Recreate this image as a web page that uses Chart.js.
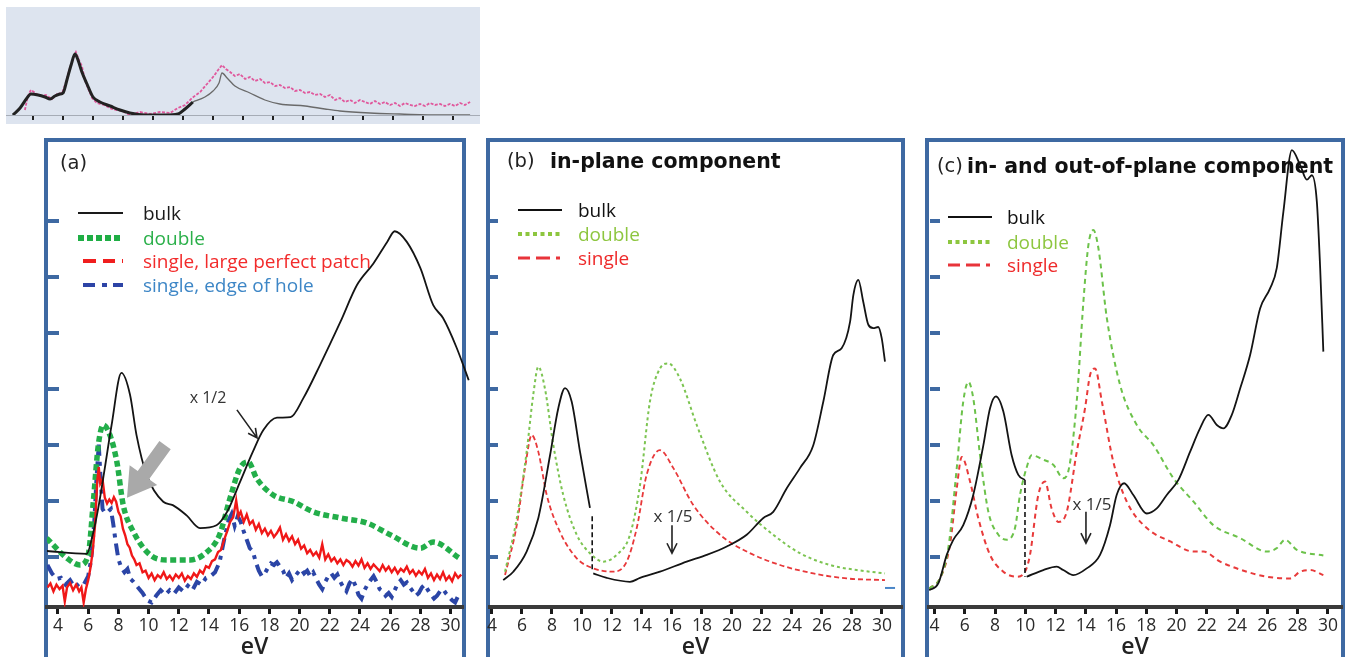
<!DOCTYPE html>
<html>
<head>
<meta charset="utf-8">
<script src="https://cdn.jsdelivr.net/npm/chart.js@4.4.1/dist/chart.umd.min.js"></script>
<style>
  body { margin: 0; background: #fff; width: 1350px; height: 657px; overflow: hidden; position: relative; font-family: "Open Sans", sans-serif; }
  canvas { position: absolute; }
  .frame { position: absolute; top: 138px; height: 540px; border: 4px solid #3e69a2; box-sizing: border-box; }
  .t { position: absolute; white-space: nowrap; line-height: 1; }
  .lg { position: absolute; white-space: nowrap; font-family: "Open Sans", sans-serif; font-size: 19px; line-height: 22px; }
  .note { position: absolute; white-space: nowrap; line-height: 1; color: #333; transform: translate(-50%, -50%); }
</style>
</head>
<body>
<div style="position:absolute;left:6px;top:7px;width:474px;height:117px;background:#dde4ef"></div>
<canvas id="inset" width="474" height="117" style="left:6px;top:7px"></canvas>

<div class="frame" style="left:44px;width:422px"></div>
<div class="frame" style="left:486px;width:419px"></div>
<div class="frame" style="left:925px;width:420px"></div>

<canvas id="pa" width="440" height="517" style="left:40px;top:140px"></canvas>
<canvas id="pb" width="424" height="517" style="left:484px;top:140px"></canvas>
<canvas id="pc" width="427" height="517" style="left:923px;top:140px"></canvas>

<div class="t" style="left:60px;top:153px;font-family:'DejaVu Sans';font-size:19.5px;color:#222">(a)</div>
<div class="t" style="left:507px;top:151px;font-family:'DejaVu Sans';font-size:19.5px;color:#222">(b)</div>
<div class="t" style="left:550px;top:151px;font-family:'DejaVu Sans';font-weight:bold;font-size:20.5px;color:#111">in-plane component</div>
<div class="t" style="left:937px;top:156px;font-family:'DejaVu Sans';font-size:19.5px;color:#222">(c)</div>
<div class="t" style="left:967px;top:156px;font-family:'DejaVu Sans';font-weight:bold;font-size:20.5px;color:#111">in- and out-of-plane component</div>

<div class="note" style="left:208px;top:397px;font-size:16px">x 1/2</div>
<div class="note" style="left:673px;top:515px;font-size:17px">x 1/5</div>
<div class="note" style="left:1092px;top:503px;font-size:17px">x 1/5</div>

<svg id="keys" width="1350" height="657" style="position:absolute;left:0;top:0;pointer-events:none"></svg>

<script>
// shared ticks
const xTicks = [4, 6, 8, 10, 12, 14, 16, 18, 20, 22, 24, 26, 28, 30];
const yTicks = [0, 1, 2, 3, 4, 5, 6];
const insetTicks = [1, 2, 3, 4, 5, 6, 7, 8, 9, 10, 11, 12, 13, 14, 15];

// inset (top left), x in tick units
const insetBulkK = [0.33, 0.57, 0.8, 0.93, 1.17, 1.4, 1.57, 1.73, 1.9, 2.0, 2.13, 2.27, 2.4, 2.5, 2.63, 2.8, 3.0, 3.23, 3.57, 3.9, 4.23, 4.73, 5.4, 5.83, 6.07, 6.33];
const insetBulk = [0, 0.7, 1.7, 2.1, 2.0, 1.8, 1.6, 1.9, 2.1, 2.2, 3.5, 5.0, 6.1, 5.5, 4.3, 3.1, 1.8, 1.3, 0.9, 0.5, 0.2, 0, 0, 0.1, 0.6, 1.3];
const insetTailK = [6.33, 6.73, 7.0, 7.2, 7.3, 7.47, 7.73, 8.23, 8.73, 9.23, 10.07, 10.73, 11.23, 12.23, 13.23, 14.57, 15.57];
const insetTail = [1.3, 1.8, 2.4, 3.2, 4.2, 3.7, 2.9, 2.2, 1.5, 1.1, 0.9, 0.6, 0.4, 0.2, 0.1, 0, 0];
const insetPinkK = [0.73, 0.83, 0.93, 1.07, 1.23, 1.43, 1.63, 1.8, 1.97, 2.1, 2.23, 2.37, 2.43, 2.53, 2.63, 2.73, 2.83, 2.97, 3.13, 3.37, 3.63, 3.97, 4.23, 4.57, 4.9, 5.23, 5.57, 5.83, 6.07, 6.3, 6.57, 6.8, 7.03, 7.17, 7.3, 7.43, 7.57, 7.73, 7.9, 8.07, 8.23, 8.4, 8.57, 8.73, 8.9, 9.07, 9.23, 9.4, 9.57, 9.73, 9.9, 10.07, 10.23, 10.4, 10.57, 10.73, 10.9, 11.07, 11.23, 11.4, 11.57, 11.73, 11.9, 12.07, 12.23, 12.4, 12.57, 12.73, 12.9, 13.07, 13.23, 13.4, 13.57, 13.73, 13.9, 14.07, 14.23, 14.4, 14.57, 14.73, 14.9, 15.07, 15.23, 15.4, 15.57];
const insetPink = [0.5, 1.9, 2.5, 2.2, 1.9, 2.0, 1.6, 2.1, 2.2, 3.3, 4.7, 5.9, 6.3, 5.5, 4.9, 3.5, 2.7, 1.7, 1.2, 1.0, 0.6, 0.4, 0.0, 0.3, 0.1, 0.3, 0.2, 0.7, 1.0, 1.7, 2.3, 3.1, 3.9, 4.5, 5.0, 4.6, 4.3, 3.9, 4.1, 3.6, 3.8, 3.4, 3.6, 3.2, 3.3, 2.9, 3.0, 2.7, 2.8, 2.4, 2.5, 2.2, 2.3, 2.0, 2.1, 1.8, 2.0, 1.5, 1.7, 1.3, 1.5, 1.2, 1.5, 1.3, 1.1, 1.4, 1.1, 1.3, 1.0, 1.2, 0.9, 1.2, 1.0, 0.9, 1.1, 0.9, 1.2, 1.0, 1.1, 0.9, 1.1, 0.9, 1.2, 1.0, 1.3];

// panel (a)
const aBulkEv = [3.25, 5.9, 6.3, 6.67, 7.1, 7.55, 8.2, 8.77, 9.2, 9.87, 10.97, 11.6, 12.5, 13.4, 14.5, 15.2, 16.05, 16.9, 17.6, 18.5, 19.4, 20.25, 21.35, 22.7, 23.8, 24.9, 25.8, 26.3, 27.1, 28.0, 28.85, 29.5, 30.4, 31.2];
const aBulk = [0.1, 0.05, 0.39, 0.87, 1.58, 2.35, 3.28, 2.89, 2.17, 1.46, 0.98, 0.92, 0.74, 0.51, 0.56, 0.8, 1.33, 1.87, 2.26, 2.48, 2.49, 2.83, 3.42, 4.19, 4.85, 5.24, 5.62, 5.81, 5.62, 5.15, 4.49, 4.26, 3.73, 3.15];
const aDoubleEv = [3.25, 4.6, 5.45, 6.0, 6.34, 6.67, 7.0, 7.44, 7.9, 8.32, 9.0, 10.1, 11.2, 12.75, 13.85, 14.7, 15.4, 16.05, 16.6, 17.15, 18.25, 19.6, 20.9, 22.7, 24.45, 26.0, 28.0, 28.85, 30.6];
const aDouble = [0.33, -0.03, -0.15, 0.03, 0.98, 1.99, 2.35, 2.17, 1.69, 0.92, 0.44, 0.03, -0.06, -0.06, 0.08, 0.39, 1.05, 1.58, 1.69, 1.4, 1.1, 0.98, 0.8, 0.69, 0.6, 0.39, 0.15, 0.26, -0.03];
const aPatchEv = [3.3, 3.5, 3.7, 3.9, 4.1, 4.3, 4.45, 4.6, 4.8, 5.0, 5.2, 5.4, 5.55, 5.7, 5.85, 6.0, 6.15, 6.3, 6.45, 6.6, 6.7, 6.8, 6.95, 7.1, 7.25, 7.4, 7.55, 7.7, 7.85, 8.0, 8.15, 8.3, 8.45, 8.6, 8.75, 8.9, 9.05, 9.2, 9.4, 9.6, 9.8, 10.0, 10.2, 10.4, 10.6, 10.8, 11.0, 11.2, 11.4, 11.6, 11.8, 12.0, 12.2, 12.4, 12.6, 12.8, 13.0, 13.2, 13.4, 13.6, 13.8, 14.0, 14.2, 14.4, 14.6, 14.8, 15.0, 15.2, 15.4, 15.6, 15.8, 15.95, 16.1, 16.3, 16.5, 16.7, 16.9, 17.1, 17.3, 17.5, 17.7, 17.9, 18.1, 18.3, 18.5, 18.7, 18.9, 19.1, 19.3, 19.5, 19.7, 19.9, 20.1, 20.3, 20.5, 20.7, 20.9, 21.1, 21.3, 21.5, 21.7, 21.9, 22.1, 22.3, 22.5, 22.7, 22.9, 23.1, 23.3, 23.5, 23.7, 23.9, 24.1, 24.3, 24.5, 24.7, 24.9, 25.1, 25.3, 25.5, 25.7, 25.9, 26.1, 26.3, 26.5, 26.7, 26.9, 27.1, 27.3, 27.5, 27.7, 27.9, 28.1, 28.3, 28.5, 28.7, 28.9, 29.1, 29.3, 29.5, 29.7, 29.9, 30.1, 30.3, 30.5, 30.7];
const aPatch = [-0.55, -0.48, -0.62, -0.5, -0.58, -0.52, -0.8, -0.55, -0.47, -0.6, -0.5, -0.62, -0.55, -0.82, -0.58, -0.42, -0.2, 0.1, 0.55, 1.35, 1.6, 1.3, 1.38, 1.05, 0.95, 1.02, 0.96, 1.06, 0.98, 0.8, 0.72, 0.5, 0.38, 0.22, 0.16, 0.02, -0.05, -0.15, -0.12, -0.28, -0.25, -0.38, -0.3, -0.42, -0.33, -0.38, -0.28, -0.4, -0.34, -0.42, -0.32, -0.38, -0.3, -0.43, -0.35, -0.4, -0.3, -0.36, -0.25, -0.3, -0.17, -0.2, -0.08, -0.05, 0.08, 0.12, 0.3, 0.45, 0.62, 0.7, 1.0, 0.72, 0.8, 0.62, 0.75, 0.58, 0.64, 0.48, 0.58, 0.42, 0.5, 0.38, 0.46, 0.35, 0.42, 0.52, 0.3, 0.4, 0.28, 0.36, 0.22, 0.3, 0.14, 0.2, 0.06, 0.12, 0.02, 0.08, -0.02, 0.22, -0.05, 0.04, -0.08, -0.02, -0.12, -0.05, -0.15, -0.06, -0.1, -0.18, -0.08, -0.16, -0.05, -0.2, -0.12, -0.22, -0.14, -0.2, -0.26, -0.15, -0.25, -0.18, -0.28, -0.2, -0.3, -0.22, -0.27, -0.18, -0.3, -0.24, -0.34, -0.26, -0.32, -0.22, -0.38, -0.3, -0.42, -0.32, -0.4, -0.28, -0.42, -0.35, -0.44, -0.3, -0.38, -0.32];
const aHoleEv = [3.3, 3.6, 3.9, 4.2, 4.5, 4.8, 5.1, 5.4, 5.7, 6.0, 6.2, 6.4, 6.55, 6.7, 6.8, 6.95, 7.1, 7.3, 7.5, 7.65, 7.8, 8.0, 8.2, 8.4, 8.6, 8.8, 9.0, 9.3, 9.6, 9.9, 10.2, 10.5, 10.8, 11.1, 11.4, 11.7, 12.0, 12.3, 12.6, 12.9, 13.2, 13.5, 13.8, 14.1, 14.4, 14.7, 15.0, 15.3, 15.5, 15.7, 15.9, 16.1, 16.3, 16.5, 16.7, 16.9, 17.1, 17.3, 17.5, 17.7, 17.9, 18.1, 18.3, 18.5, 18.7, 18.9, 19.1, 19.3, 19.5, 19.7, 19.9, 20.1, 20.3, 20.5, 20.7, 20.9, 21.1, 21.3, 21.5, 21.7, 21.9, 22.1, 22.3, 22.5, 22.7, 22.9, 23.1, 23.3, 23.5, 23.7, 23.9, 24.1, 24.3, 24.5, 24.7, 24.9, 25.1, 25.3, 25.5, 25.7, 25.9, 26.1, 26.3, 26.5, 26.7, 26.9, 27.1, 27.3, 27.5, 27.7, 27.9, 28.1, 28.3, 28.5, 28.7, 28.9, 29.1, 29.3, 29.5, 29.7, 29.9, 30.1, 30.3, 30.5];
const aHole = [-0.15, -0.3, -0.4, -0.38, -0.5, -0.42, -0.55, -0.48, -0.5, -0.35, -0.05, 0.6, 1.4, 2.0, 1.5, 0.85, 0.78, 0.8, 0.85, 0.6, 0.3, -0.05, -0.2, -0.28, -0.22, -0.4, -0.45, -0.55, -0.65, -0.78, -0.82, -0.7, -0.6, -0.68, -0.6, -0.66, -0.55, -0.62, -0.52, -0.6, -0.45, -0.5, -0.38, -0.35, -0.28, -0.1, 0.3, 0.65, 0.76, 0.55, 0.72, 0.62, 0.45, 0.3, 0.15, 0.1, -0.1, -0.25, -0.35, -0.3, -0.2, -0.12, -0.15, -0.1, -0.18, -0.25, -0.38, -0.3, -0.42, -0.35, -0.28, -0.22, -0.3, -0.25, -0.35, -0.28, -0.4, -0.5, -0.58, -0.45, -0.35, -0.3, -0.38, -0.32, -0.45, -0.55, -0.62, -0.48, -0.4, -0.52, -0.68, -0.75, -0.6, -0.5, -0.42, -0.35, -0.45, -0.58, -0.62, -0.7, -0.65, -0.72, -0.6, -0.48, -0.42, -0.5, -0.46, -0.55, -0.62, -0.7, -0.65, -0.55, -0.5, -0.6, -0.68, -0.75, -0.7, -0.62, -0.58, -0.66, -0.72, -0.78, -0.82, -0.7];

// panel (b)
const bBulkLoEv = [4.75, 5.42, 6.31, 7.09, 7.87, 8.42, 8.87, 9.31, 9.87, 10.53];
const bBulkLo = [-0.42, -0.27, 0.09, 0.69, 1.81, 2.65, 3.01, 2.77, 1.87, 0.87];
const bJoinEv = [10.68, 10.68];
const bJoin = [0.72, -0.28];
const bBulkHiEv = [10.75, 11.65, 13.2, 13.87, 15.2, 16.98, 18.31, 19.65, 20.98, 22.09, 22.75, 23.65, 24.53, 25.42, 26.09, 26.75, 27.31, 27.87, 28.09, 28.42, 28.75, 29.09, 29.42, 29.75, 29.98, 30.2];
const bBulkHi = [-0.3, -0.38, -0.45, -0.38, -0.27, -0.09, 0.03, 0.18, 0.39, 0.69, 0.8, 1.22, 1.58, 1.99, 2.77, 3.6, 3.72, 4.19, 4.67, 4.94, 4.55, 4.14, 4.08, 4.1, 3.9, 3.48];
const bDoubleEv = [4.87, 5.65, 6.31, 6.75, 7.09, 7.53, 8.09, 8.75, 9.65, 10.53, 11.42, 12.31, 13.2, 13.87, 14.53, 15.2, 15.75, 16.53, 17.65, 19.2, 20.98, 22.75, 24.53, 26.53, 28.31, 30.2];
const bDouble = [-0.27, 0.68, 1.87, 2.89, 3.39, 3.0, 1.99, 1.1, 0.39, 0.06, -0.09, 0.03, 0.39, 1.28, 2.77, 3.36, 3.45, 3.18, 2.35, 1.34, 0.8, 0.39, 0.06, -0.15, -0.24, -0.3];
const bSingleEv = [4.87, 5.65, 6.2, 6.65, 7.09, 7.65, 8.53, 9.65, 10.75, 12.09, 12.98, 13.65, 14.31, 15.2, 16.09, 17.42, 19.2, 20.98, 23.2, 25.42, 27.65, 30.2];
const bSingle = [-0.33, 0.56, 1.58, 2.17, 1.87, 1.1, 0.44, -0.03, -0.21, -0.27, -0.09, 0.51, 1.46, 1.9, 1.58, 0.92, 0.39, 0.09, -0.15, -0.3, -0.39, -0.42];
const bStubEv = [30.2, 30.87];
const bStub = [-0.56, -0.56];

// panel (c)
const cBulkLoEv = [3.65, 4.25, 4.81, 5.24, 5.9, 6.56, 7.23, 7.67, 8.06, 8.55, 9.1, 9.54, 9.98];
const cBulkLo = [-0.6, -0.48, 0.03, 0.3, 0.56, 1.1, 1.99, 2.65, 2.86, 2.59, 1.81, 1.46, 1.37];
const cJoinEv = [9.98, 9.98];
const cJoin = [1.37, -0.36];
const cBulkHiEv = [10.09, 11.19, 12.08, 12.51, 13.17, 14.06, 14.94, 15.6, 16.04, 16.53, 17.14, 18.03, 18.69, 19.35, 20.12, 20.89, 21.55, 22.1, 22.66, 23.1, 23.65, 24.2, 24.86, 25.52, 26.18, 26.62, 27.06, 27.62, 28.17, 28.61, 28.94, 29.27, 29.49, 29.7];
const cBulkHi = [-0.36, -0.24, -0.18, -0.24, -0.33, -0.21, 0.03, 0.56, 1.1, 1.31, 1.1, 0.77, 0.86, 1.1, 1.37, 1.87, 2.29, 2.53, 2.35, 2.29, 2.53, 3.0, 3.6, 4.43, 4.79, 5.15, 6.16, 7.26, 6.99, 6.73, 6.81, 6.34, 5.15, 3.66];
const cDoubleEv = [3.65, 4.36, 4.91, 5.47, 5.9, 6.24, 6.56, 7.01, 7.56, 8.22, 8.78, 9.32, 9.65, 10.1, 10.42, 11.19, 11.85, 12.51, 12.84, 13.4, 13.84, 14.17, 14.5, 14.83, 15.39, 16.27, 17.37, 18.47, 19.79, 21.12, 22.44, 24.2, 25.97, 26.62, 27.17, 27.95, 29.7];
const cDouble = [-0.57, -0.39, 0.15, 1.58, 2.77, 3.12, 2.83, 1.81, 0.8, 0.39, 0.3, 0.51, 1.1, 1.6, 1.81, 1.73, 1.64, 1.4, 1.52, 2.77, 4.55, 5.56, 5.83, 5.51, 4.26, 3.06, 2.35, 1.99, 1.4, 0.98, 0.56, 0.33, 0.09, 0.15, 0.3, 0.12, 0.02];
const cSingleEv = [3.65, 4.36, 5.02, 5.47, 5.8, 6.35, 6.9, 7.67, 8.55, 9.43, 9.98, 10.31, 10.86, 11.3, 11.74, 12.18, 12.74, 13.4, 13.95, 14.28, 14.61, 15.06, 15.82, 16.71, 18.03, 19.58, 21.12, 21.78, 22.88, 24.64, 25.97, 27.5, 28.17, 28.83, 29.7];
const cSingle = [-0.57, -0.39, 0.21, 1.22, 1.78, 1.34, 0.68, 0.03, -0.27, -0.36, -0.27, 0.03, 1.1, 1.34, 0.86, 0.62, 0.8, 1.87, 2.65, 3.24, 3.36, 2.77, 1.69, 0.98, 0.51, 0.27, 0.09, 0.09, -0.09, -0.27, -0.36, -0.39, -0.27, -0.24, -0.33];

const pts = (xs, ys) => xs.map((x, i) => ({ x: x, y: ys[i] }));

function line(xs, ys, color, width, dash, smooth, extra) {
  return Object.assign({
    data: pts(xs, ys),
    borderColor: color,
    borderWidth: width,
    borderDash: dash || [],
    pointRadius: 0,
    fill: false,
    tension: 0,
    cubicInterpolationMode: smooth ? 'monotone' : 'default'
  }, extra || {});
}

// arrows drawn from data coordinates
function drawArrow(ctx, x1, y1, x2, y2, a) {
  const ang = Math.atan2(y2 - y1, x2 - x1), len = Math.hypot(x2 - x1, y2 - y1);
  ctx.save();
  ctx.translate(x1, y1);
  ctx.rotate(ang);
  if (a.fat) {
    ctx.fillStyle = a.color;
    ctx.beginPath();
    ctx.moveTo(0, -a.shaft / 2);
    ctx.lineTo(len - a.head, -a.shaft / 2);
    ctx.lineTo(len - a.head, -a.wide / 2);
    ctx.lineTo(len, 0);
    ctx.lineTo(len - a.head, a.wide / 2);
    ctx.lineTo(len - a.head, a.shaft / 2);
    ctx.lineTo(0, a.shaft / 2);
    ctx.closePath();
    ctx.fill();
  } else {
    ctx.strokeStyle = a.color;
    ctx.lineWidth = 1.6;
    ctx.beginPath();
    ctx.moveTo(0, 0);
    ctx.lineTo(len, 0);
    ctx.moveTo(len - a.head, -a.head * 0.5);
    ctx.lineTo(len, 0);
    ctx.lineTo(len - a.head, a.head * 0.5);
    ctx.stroke();
  }
  ctx.restore();
}

function arrowPlugin(list) {
  return {
    id: 'arrows',
    afterDatasetsDraw(chart) {
      const { ctx, scales } = chart;
      list.forEach(a => {
        drawArrow(ctx,
          scales.x.getPixelForValue(a.from[0]), scales.y.getPixelForValue(a.from[1]),
          scales.x.getPixelForValue(a.to[0]), scales.y.getPixelForValue(a.to[1]), a);
      });
    }
  };
}

function makePanel(id, o) {
  return new Chart(document.getElementById(id), {
    type: 'line',
    data: { datasets: o.datasets },
    options: {
      responsive: false,
      animation: false,
      devicePixelRatio: 1,
      layout: { padding: o.pad },
      plugins: { legend: { display: false }, tooltip: { enabled: false } },
      scales: {
        x: {
          type: 'linear', min: o.xmin, max: o.xmax,
          afterBuildTicks: s => { s.ticks = xTicks.map(v => ({ value: v })); },
          afterFit: s => { s.height = 50; },
          border: { display: true, color: '#3a3a3a', width: 4 },
          grid: { drawOnChartArea: false, drawTicks: true, tickLength: 7, color: '#1a1a1a', lineWidth: 3 },
          ticks: { color: '#2a2a2a', font: { family: 'Open Sans', size: 17.5 }, padding: 2, maxRotation: 0, autoSkip: false },
          title: { display: true, text: 'eV', color: '#222', font: { family: 'Open Sans', size: 23, weight: '600', lineHeight: 1 }, padding: { top: 0, bottom: -2 } }
        },
        y: {
          type: 'linear', axis: 'y', position: { x: o.yAt }, min: -0.9, max: 7.35,
          afterBuildTicks: s => { s.ticks = yTicks.map(v => ({ value: v })); },
          border: { display: false },
          grid: { drawOnChartArea: false, drawTicks: true, tickLength: o.tickLen, color: '#3e69a2', lineWidth: 4 },
          ticks: { display: false }
        }
      }
    },
    plugins: [arrowPlugin(o.arrows)]
  });
}

// inset
new Chart(document.getElementById('inset'), {
  type: 'line',
  data: {
    datasets: [
      line(insetBulkK, insetBulk, '#222', 3, null, true),
      line(insetTailK, insetTail, '#6a6a6a', 1.3, null, true),
      line(insetPinkK, insetPink, '#e0589c', 1.8, [3, 1.5], false)
    ]
  },
  options: {
    responsive: false, animation: false, devicePixelRatio: 1,
    layout: { padding: 0 },
    plugins: { legend: { display: false }, tooltip: { enabled: false } },
    scales: {
      x: {
        type: 'linear', min: 0.1, max: 15.9,
        afterBuildTicks: s => { s.ticks = insetTicks.map(v => ({ value: v })); },
        afterFit: s => { s.height = 9; },
        border: { display: true, color: '#a6acb6', width: 1 },
        grid: { drawOnChartArea: false, drawTicks: true, tickLength: 5, color: '#222', lineWidth: 2 },
        ticks: { display: false }
      },
      y: { display: false, min: 0, max: 10.8 }
    }
  }
});

makePanel('pa', {
  xmin: 3.272, xmax: 30.755, yAt: 4.07, tickLen: 11,
  pad: { left: 7, right: 18, top: 5, bottom: 0 },
  datasets: [
    line(aBulkEv, aBulk, '#141414', 1.8, null, true, { clip: { left: 0, top: 0, right: 10, bottom: 0 } }),
    line(aPatchEv, aPatch, '#f01818', 2.4, null, false),
    line(aDoubleEv, aDouble, '#23ae4a', 5.5, [6, 3.5], true),
    line(aHoleEv, aHole, '#2b45a6', 4, [12, 6, 4, 6], false)
  ],
  arrows: [
    { from: [11.09, 1.99], to: [8.57, 1.05], fat: true, color: '#a9a9a9', shaft: 14, head: 28, wide: 34 },
    { from: [15.85, 2.62], to: [17.18, 2.12], color: '#222', head: 9 }
  ]
});

makePanel('pb', {
  xmin: 3.867, xmax: 31.267, yAt: 4.4, tickLen: 8,
  pad: { left: 6, right: 7, top: 5, bottom: 0 },
  datasets: [
    line(bBulkLoEv, bBulkLo, '#141414', 1.8, null, true),
    line(bBulkHiEv, bBulkHi, '#141414', 1.8, null, true),
    line(bJoinEv, bJoin, '#141414', 1.6, [5, 3], false),
    line(bDoubleEv, bDouble, '#7cc451', 2, [3, 3], true),
    line(bSingleEv, bSingle, '#e8383a', 1.8, [5, 3], true),
    line(bStubEv, bStub, '#4a86c8', 2, null, false, { clip: { left: 0, top: 0, right: 10, bottom: 0 } })
  ],
  arrows: [
    { from: [16.0, 0.56], to: [16.0, 0.06], color: '#222', head: 10 }
  ]
});

makePanel('pc', {
  xmin: 3.636, xmax: 30.867, yAt: 4.36, tickLen: 10,
  pad: { left: 6, right: 9, top: 5, bottom: 0 },
  datasets: [
    line(cBulkLoEv, cBulkLo, '#141414', 1.8, null, true),
    line(cBulkHiEv, cBulkHi, '#141414', 1.8, null, true),
    line(cJoinEv, cJoin, '#141414', 1.6, [5, 3], false),
    line(cDoubleEv, cDouble, '#6cc24a', 2, [5, 4], true),
    line(cSingleEv, cSingle, '#e83a3a', 2, [5, 4], true)
  ],
  arrows: [
    { from: [14.01, 0.8], to: [14.01, 0.24], color: '#222', head: 10 }
  ]
});

// legends (html text + svg samples)
const legends = [
  { x1: 78, x2: 123, tx: 143, rows: [
    { y: 213, label: 'bulk', text: '#1a1a1a', stroke: '#1a1a1a', w: 2, dash: '' },
    { y: 238, label: 'double', text: '#2bb04a', stroke: '#1fae45', w: 6, dash: '6 3' },
    { y: 261, label: 'single, large perfect patch', text: '#f22b2b', stroke: '#f01e1e', w: 4, dash: '13 7 12 7 3 40', x1: 83 },
    { y: 285, label: 'single, edge of hole', text: '#3d86c6', stroke: '#2d44a6', w: 4, dash: '12 7 5 6 14', x1: 83 }
  ] },
  { x1: 518, x2: 562, tx: 578, rows: [
    { y: 210, label: 'bulk', text: '#111', stroke: '#111', w: 2, dash: '' },
    { y: 234, label: 'double', text: '#8dc63f', stroke: '#8dc63f', w: 4, dash: '4 3.5' },
    { y: 258, label: 'single', text: '#ee2a2a', stroke: '#e8343a', w: 3, dash: '12 6 14 6 4 20' }
  ] },
  { x1: 948, x2: 992, tx: 1007, rows: [
    { y: 217, label: 'bulk', text: '#111', stroke: '#111', w: 2, dash: '' },
    { y: 242, label: 'double', text: '#8dc63f', stroke: '#8dc63f', w: 4, dash: '4 3.5' },
    { y: 265, label: 'single', text: '#ee2a2a', stroke: '#e8343a', w: 3, dash: '12 6 14 6 4 20' }
  ] }
];
const svg = document.getElementById('keys');
legends.forEach(g => {
  g.rows.forEach(r => {
    const ln = document.createElementNS('http://www.w3.org/2000/svg', 'line');
    ln.setAttribute('x1', r.x1 || g.x1); ln.setAttribute('x2', g.x2);
    ln.setAttribute('y1', r.y); ln.setAttribute('y2', r.y);
    ln.setAttribute('stroke', r.stroke); ln.setAttribute('stroke-width', r.w);
    if (r.dash) ln.setAttribute('stroke-dasharray', r.dash);
    svg.appendChild(ln);
    const d = document.createElement('div');
    d.className = 'lg';
    d.style.left = g.tx + 'px';
    d.style.top = (r.y - 11) + 'px';
    d.style.color = r.text;
    d.textContent = r.label;
    document.body.appendChild(d);
  });
});
</script>
</body>
</html>
